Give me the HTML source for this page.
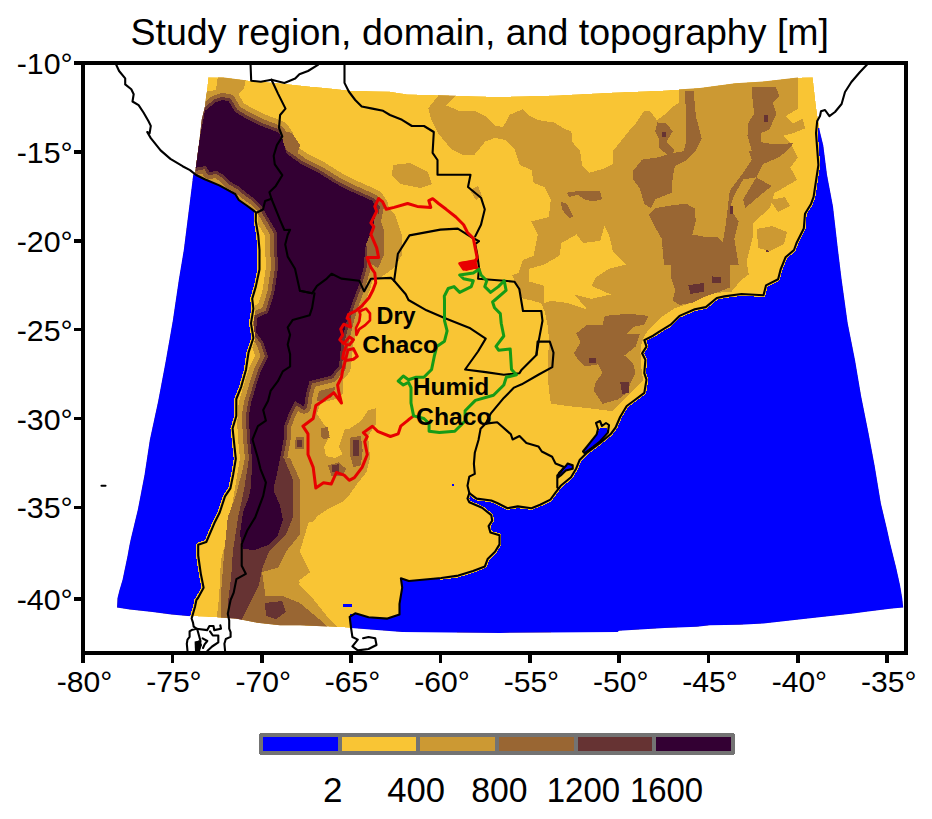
<!DOCTYPE html>
<html><head><meta charset="utf-8"><style>html,body{margin:0;padding:0;background:#fff}svg{display:block}</style></head>
<body><svg width="932" height="819" viewBox="0 0 932 819" shape-rendering="crispEdges">
<rect width="932" height="819" fill="#fff"/>
<defs><clipPath id="dom"><polygon points="208.2,77.3 224.0,77.5 241.5,79.7 250.0,80.7 280.0,83.2 305.9,86.1 329.5,88.2 353.0,90.8 390.0,91.5 407.0,94.2 468.0,96.1 500.0,96.8 553.5,95.4 612.0,92.5 663.4,90.5 692.7,88.6 700.0,88.0 735.4,83.2 763.5,81.5 797.7,77.6 812.8,77.3 816.0,105.0 819.7,130.8 823.3,145.5 827.0,174.8 833.0,206.5 838.0,250.0 841.6,279.3 847.7,323.3 855.0,360.0 861.2,396.5 868.5,433.0 874.6,465.4 880.9,503.5 887.2,530.0 889.8,542.0 893.5,557.0 896.0,567.0 898.0,576.0 900.0,585.0 902.2,598.0 903.2,607.6 892.0,608.6 868.0,611.4 853.0,613.4 835.0,615.5 807.9,618.4 785.7,620.9 763.5,623.4 739.7,624.7 710.0,625.3 696.8,626.7 664.6,628.0 619.0,630.7 617.6,632.0 500.0,632.9 402.2,632.0 351.2,628.0 333.7,626.7 300.0,625.3 280.0,625.3 257.3,622.7 235.8,618.6 214.3,617.3 187.5,616.0 171.3,614.6 152.5,612.0 129.7,609.6 117.0,607.6 117.5,598.0 119.5,590.0 122.5,580.0 125.0,568.0 127.5,556.0 129.5,545.0 131.0,538.0 137.8,509.8 144.5,474.9 149.8,440.0 158.1,401.4 165.5,362.3 172.8,320.8 178.9,279.3 183.8,250.0 193.2,175.2 195.4,170.9 197.5,155.8 199.7,138.7 201.8,119.4 205.0,106.5 206.7,91.5"/></clipPath></defs>
<g clip-path="url(#dom)">
<polygon points="208.2,77.3 224.0,77.5 241.5,79.7 250.0,80.7 280.0,83.2 305.9,86.1 329.5,88.2 353.0,90.8 390.0,91.5 407.0,94.2 468.0,96.1 500.0,96.8 553.5,95.4 612.0,92.5 663.4,90.5 692.7,88.6 700.0,88.0 735.4,83.2 763.5,81.5 797.7,77.6 812.8,77.3 816.0,105.0 819.7,130.8 823.3,145.5 827.0,174.8 833.0,206.5 838.0,250.0 841.6,279.3 847.7,323.3 855.0,360.0 861.2,396.5 868.5,433.0 874.6,465.4 880.9,503.5 887.2,530.0 889.8,542.0 893.5,557.0 896.0,567.0 898.0,576.0 900.0,585.0 902.2,598.0 903.2,607.6 892.0,608.6 868.0,611.4 853.0,613.4 835.0,615.5 807.9,618.4 785.7,620.9 763.5,623.4 739.7,624.7 710.0,625.3 696.8,626.7 664.6,628.0 619.0,630.7 617.6,632.0 500.0,632.9 402.2,632.0 351.2,628.0 333.7,626.7 300.0,625.3 280.0,625.3 257.3,622.7 235.8,618.6 214.3,617.3 187.5,616.0 171.3,614.6 152.5,612.0 129.7,609.6 117.0,607.6 117.5,598.0 119.5,590.0 122.5,580.0 125.0,568.0 127.5,556.0 129.5,545.0 131.0,538.0 137.8,509.8 144.5,474.9 149.8,440.0 158.1,401.4 165.5,362.3 172.8,320.8 178.9,279.3 183.8,250.0 193.2,175.2 195.4,170.9 197.5,155.8 199.7,138.7 201.8,119.4 205.0,106.5 206.7,91.5" fill="#F9C534" />
<polygon points="490.0,125.7 503.2,126.8 509.8,114.7 523.0,109.2 529.6,115.8 538.4,120.2 553.7,122.4 564.7,129.0 571.3,131.2 572.4,142.1 580.1,150.9 582.3,166.3 588.9,172.9 604.3,168.5 613.1,164.1 613.1,150.9 621.9,140.0 630.7,129.0 635.1,124.6 643.8,111.4 650.4,111.4 657.0,120.2 665.8,113.6 672.4,107.0 679.0,102.6 679.0,80.0 797.7,70.0 797.7,108.8 785.5,116.2 792.8,123.5 802.6,118.6 805.0,128.4 792.8,133.3 783.0,135.7 790.4,143.0 797.7,157.7 790.4,167.4 797.0,180.0 774.5,193.0 770.0,208.0 753.0,223.0 753.0,236.0 746.6,261.5 748.8,274.4 740.2,281.0 731.6,291.6 714.7,293.0 700.0,298.8 690.0,303.0 675.0,308.0 660.0,318.0 650.0,328.0 645.0,335.0 641.0,345.0 641.0,365.0 643.0,380.0 636.5,386.8 626.8,396.5 612.1,411.2 592.6,408.7 570.6,406.3 551.0,403.8 550.0,398.0 548.0,380.0 548.0,360.0 549.0,340.0 548.0,328.0 545.0,312.0 541.0,303.0 530.0,300.0 522.9,298.8 516.5,285.9 512.2,275.2 518.6,273.0 522.9,260.1 533.6,255.8 537.9,234.4 531.5,221.5 548.7,217.2 550.8,200.0 544.4,187.2 533.6,182.9 531.5,170.0 520.0,165.0 515.0,150.0 505.0,140.0 490.0,137.0" fill="#CC9933" />
<polygon points="529.4,268.7 544.4,264.4 559.4,255.8 561.5,243.0 576.6,234.4 583.0,243.0 600.2,240.8 604.5,225.8 608.8,234.4 613.0,251.5 626.0,264.4 608.8,268.7 595.9,277.3 591.6,285.9 610.9,294.5 591.6,298.8 574.4,294.5 587.3,309.5 568.0,303.0 550.8,300.9 544.4,303.0 544.4,285.9 529.4,281.6" fill="#F9C534" />
<polygon points="438.6,95.3 456.7,95.3 446.4,105.6 459.2,110.8 474.7,110.8 485.0,115.9 492.7,123.6 505.6,133.9 485.0,141.7 474.7,154.5 461.8,154.5 451.5,149.4 438.6,133.9 430.9,118.5 428.3,108.2" fill="#CC9933" />
<polygon points="684.8,90.5 693.6,90.5 695.8,115.8 701.8,138.8 695.8,150.9 685.9,160.8 683.7,150.9 685.9,142.1 685.9,111.4" fill="#996633" />
<polygon points="633.2,170.7 642.0,159.7 657.4,157.5 672.7,153.1 685.9,150.9 685.9,160.8 674.9,166.3 672.7,177.3 671.6,192.7 655.2,199.3 650.8,208.1 644.2,203.7 639.8,188.3 633.2,179.5" fill="#996633" />
<polygon points="657.4,122.4 666.2,123.5 672.7,131.2 666.2,142.1 674.9,150.9 668.4,155.3 659.6,148.7 658.5,137.7 655.2,131.2" fill="#996633" />
<polygon points="751.9,87.2 776.0,87.2 779.3,96.0 772.7,102.6 776.5,113.6 769.5,129.0 760.7,133.4 760.7,150.9 751.9,150.9 747.5,135.5 748.6,122.4 754.1,113.6 751.9,93.8" fill="#996633" />
<polygon points="760.7,142.1 773.8,144.3 793.6,143.2 787.0,150.9 778.2,157.5 762.9,164.1 760.7,157.5" fill="#996633" />
<polygon points="748.6,150.9 760.7,150.9 762.9,164.1 756.3,177.3 743.1,179.5 734.3,194.9 729.9,208.1 738.7,221.3 734.3,238.8 738.7,265.0 716.7,265.0 723.3,238.8 725.5,225.7 727.7,208.1 729.9,190.5 743.1,172.9 751.9,159.7" fill="#996633" />
<polygon points="756.3,177.3 771.6,186.1 760.7,194.9 745.3,208.1 743.1,199.3 749.7,188.3" fill="#996633" />
<polygon points="648.6,214.7 655.2,208.1 668.4,205.9 685.9,203.7 694.7,208.1 695.8,221.3 692.5,234.5 703.5,236.6 716.7,236.6 723.3,243.2 725.5,265.0 664.0,265.0 661.8,238.8 653.0,223.5" fill="#996633" />
<polygon points="661.9,247.8 730.0,247.8 730.0,287.4 719.0,291.8 705.8,296.2 692.6,302.7 679.5,304.9 672.9,300.5 675.1,289.6 670.7,276.4 670.7,263.2 666.3,256.6" fill="#996633" />
<polygon points="576.2,333.5 587.1,324.7 602.5,324.7 604.7,315.9 628.9,313.7 648.7,315.9 644.3,324.7 633.3,326.9 626.7,333.5 639.9,333.5 635.5,346.7 624.5,355.5 633.3,364.3 635.5,373.1 631.1,381.9 626.7,392.9 617.9,399.5 602.5,403.8 593.7,390.7 595.9,381.9 602.5,373.1 598.1,364.3 584.9,366.5 578.4,359.9 574.0,353.3 580.5,342.3" fill="#996633" />
<polygon points="566.9,192.7 582.3,190.5 599.9,190.5 602.1,199.3 593.3,201.5 584.5,199.3 577.9,194.9 569.1,197.1" fill="#996633" />
<polygon points="560.3,201.5 566.9,203.7 573.5,216.9 569.1,218.0 562.5,210.3" fill="#996633" />
<polygon points="661.8,132.3 666.2,132.3 666.2,136.6 661.8,136.6" fill="#663333" />
<polygon points="764.0,114.7 768.4,114.7 768.4,122.4 764.0,122.4" fill="#663333" />
<polygon points="729.9,205.9 733.2,205.9 733.2,213.6 729.9,213.6" fill="#663333" />
<polygon points="765.5,246.5 768.6,246.5 768.6,252.0 765.5,252.0" fill="#663333" />
<polygon points="712.4,276.4 721.2,277.5 721.2,283.0 712.4,283.0" fill="#663333" />
<polygon points="688.2,285.2 703.6,283.0 703.6,291.8 690.4,294.0" fill="#663333" />
<polygon points="589.3,357.7 595.9,357.7 595.9,363.2 589.3,363.2" fill="#663333" />
<polygon points="620.1,381.9 628.9,381.9 628.9,392.9 622.3,394.0" fill="#663333" />
<polygon points="662.5,132.3 665.8,132.3 665.8,136.6 662.5,136.6" fill="#663333" />
<polygon points="305.9,375.5 335.2,373.7 342.5,381.0 342.5,393.8 335.2,399.3 320.5,403.0 316.9,413.9 324.2,424.9 335.2,430.4 349.8,428.6 360.8,421.3 368.1,410.3 375.5,408.4 375.5,424.9 368.1,435.9 370.0,457.9 366.3,472.5 357.2,483.5 349.8,494.5 342.5,501.8 327.9,509.1 316.9,516.5 313.2,521.9 276.6,521.9 276.6,489.0 282.1,461.5 285.8,424.9 289.4,406.6 300.4,393.8 305.9,381.0" fill="#CC9933" />
<polygon points="320.5,404.8 338.9,401.1 342.5,410.3 346.2,424.9 342.5,435.9 338.9,446.9 342.5,454.2 335.2,457.9 326.0,456.0 324.2,446.9 329.7,435.9 326.0,426.8 318.7,415.8" fill="#F9C534" />
<polygon points="305.9,377.3 331.5,375.5 335.2,388.3 331.5,397.5 320.5,401.1 313.2,401.1 307.7,392.0" fill="#996633" />
<polygon points="320.5,428.6 327.9,426.8 329.7,437.7 324.2,439.6 320.5,435.9" fill="#996633" />
<polygon points="349.8,437.7 360.8,435.9 362.7,450.5 360.8,465.2 353.5,467.0 349.8,454.2" fill="#996633" />
<polygon points="327.9,465.2 338.9,462.4 346.2,468.9 342.5,476.2 331.5,476.2" fill="#996633" />
<polygon points="293.1,437.7 304.1,436.8 304.1,448.7 294.9,448.7" fill="#996633" />
<polygon points="309.6,393.8 316.9,392.0 316.9,406.6 311.4,406.6" fill="#996633" />
<polygon points="296.8,439.6 302.2,439.6 302.2,446.9 296.8,446.9" fill="#663333" />
<polygon points="352.6,439.6 359.0,439.6 359.0,456.0 353.5,456.0" fill="#663333" />
<polygon points="331.5,465.2 338.9,464.3 338.9,471.6 332.4,472.5" fill="#663333" />
<polygon points="757.0,229.0 772.0,226.0 787.0,232.0 784.0,244.0 770.0,251.0 758.0,248.0" fill="#CC9933" />
<polygon points="770.0,200.0 785.0,197.0 790.0,206.0 778.0,212.0" fill="#CC9933" />
<polygon points="218.0,76.0 246.0,79.0 244.0,88.0 236.0,96.0 234.0,104.0 222.0,100.0 212.0,102.0 204.0,108.0 204.0,92.0 216.0,90.0" fill="#CC9933" />
<polygon points="365.0,200.0 385.0,203.0 395.0,215.0 402.0,235.0 402.0,255.0 394.0,268.0 380.0,278.0 366.0,276.0 362.0,250.0 366.0,226.0" fill="#CC9933" />
<polygon points="393.0,165.0 410.0,163.0 428.0,172.0 432.0,184.0 420.0,188.0 400.0,184.0 392.0,175.0" fill="#CC9933" />
<polygon points="470.0,190.0 478.0,186.0 482.0,196.0 476.0,200.0" fill="#CC9933" />
<polygon points="205.0,110.8 215.8,102.2 222.2,100.0 228.6,101.1 235.0,111.8 245.8,118.3 260.8,125.8 278.0,132.2 282.3,138.7 286.6,153.7 301.6,164.4 318.8,173.0 335.9,183.7 353.1,192.3 372.4,200.9 376.7,207.3 372.4,230.0 365.8,244.4 363.4,268.8 358.5,285.9 351.2,305.5 346.3,322.6 341.4,342.1 339.0,366.5 335.2,370.0 331.5,375.5 309.6,381.0 305.9,393.8 304.1,406.6 294.9,401.1 289.4,412.1 284.5,424.9 283.5,440.0 280.0,459.0 276.0,478.0 273.0,490.0 271.0,500.0 250.0,500.0 251.0,480.0 252.5,463.7 249.8,436.8 249.0,415.0 251.0,403.1 256.0,386.0 260.8,371.4 268.1,356.8 263.3,342.1 256.0,332.3 257.2,317.7 268.1,312.8 274.2,293.3 277.9,268.8 276.7,232.2 266.0,214.0 262.0,206.0 254.7,198.8 246.2,192.7 238.8,186.6 230.3,181.7 224.2,175.6 216.9,170.8 209.5,172.0 205.9,165.9 194.9,168.0 199.7,138.7" fill="#CC9933" stroke="#CC9933" stroke-width="24" stroke-linejoin="round"/>
<polygon points="205.0,110.8 215.8,102.2 222.2,100.0 228.6,101.1 235.0,111.8 245.8,118.3 260.8,125.8 278.0,132.2 282.3,138.7 286.6,153.7 301.6,164.4 318.8,173.0 335.9,183.7 353.1,192.3 372.4,200.9 376.7,207.3 372.4,230.0 365.8,244.4 363.4,268.8 358.5,285.9 351.2,305.5 346.3,322.6 341.4,342.1 339.0,366.5 335.2,370.0 331.5,375.5 309.6,381.0 305.9,393.8 304.1,406.6 294.9,401.1 289.4,412.1 284.5,424.9 283.5,440.0 280.0,459.0 276.0,478.0 273.0,490.0 271.0,500.0 250.0,500.0 251.0,480.0 252.5,463.7 249.8,436.8 249.0,415.0 251.0,403.1 256.0,386.0 260.8,371.4 268.1,356.8 263.3,342.1 256.0,332.3 257.2,317.7 268.1,312.8 274.2,293.3 277.9,268.8 276.7,232.2 266.0,214.0 262.0,206.0 254.7,198.8 246.2,192.7 238.8,186.6 230.3,181.7 224.2,175.6 216.9,170.8 209.5,172.0 205.9,165.9 194.9,168.0 199.7,138.7" fill="#996633" stroke="#996633" stroke-width="14" stroke-linejoin="round"/>
<polygon points="205.0,110.8 215.8,102.2 222.2,100.0 228.6,101.1 235.0,111.8 245.8,118.3 260.8,125.8 278.0,132.2 282.3,138.7 286.6,153.7 301.6,164.4 318.8,173.0 335.9,183.7 353.1,192.3 372.4,200.9 376.7,207.3 372.4,230.0 365.8,244.4 363.4,268.8 358.5,285.9 351.2,305.5 346.3,322.6 341.4,342.1 339.0,366.5 335.2,370.0 331.5,375.5 309.6,381.0 305.9,393.8 304.1,406.6 294.9,401.1 289.4,412.1 284.5,424.9 283.5,440.0 280.0,459.0 276.0,478.0 273.0,490.0 271.0,500.0 250.0,500.0 251.0,480.0 252.5,463.7 249.8,436.8 249.0,415.0 251.0,403.1 256.0,386.0 260.8,371.4 268.1,356.8 263.3,342.1 256.0,332.3 257.2,317.7 268.1,312.8 274.2,293.3 277.9,268.8 276.7,232.2 266.0,214.0 262.0,206.0 254.7,198.8 246.2,192.7 238.8,186.6 230.3,181.7 224.2,175.6 216.9,170.8 209.5,172.0 205.9,165.9 194.9,168.0 199.7,138.7" fill="#663333" stroke="#663333" stroke-width="6" stroke-linejoin="round"/>
<polygon points="280.0,130.0 292.0,133.0 300.0,145.0 297.0,155.0 288.0,152.0 282.0,142.0" fill="#996633" />
<polygon points="368.0,210.0 378.0,212.0 384.0,230.0 384.0,255.0 378.0,268.0 368.0,262.0 366.0,240.0" fill="#996633" />
<polygon points="240.0,458.0 300.0,458.0 318.0,480.0 313.6,500.0 310.2,517.2 299.9,551.5 310.2,572.1 296.4,582.4 313.6,599.6 327.3,616.7 337.6,627.0 337.6,640.0 215.8,640.0 215.8,627.0 219.2,596.1 220.9,560.1 227.8,534.3 233.0,500.0 238.0,470.0" fill="#CC9933" />
<polygon points="245.0,458.0 290.0,458.0 299.9,480.0 299.9,534.3 286.1,551.5 275.8,572.1 282.7,596.1 299.9,603.0 320.5,620.2 327.3,627.0 327.3,640.0 220.9,640.0 220.9,594.4 224.3,551.5 227.8,517.2 236.0,495.0 243.0,468.0" fill="#996633" />
<polygon points="262.1,572.1 286.1,565.2 299.9,582.4 286.1,596.1 265.5,596.1" fill="#CC9933" />
<polygon points="249.0,458.0 284.0,458.0 293.0,480.0 293.0,517.2 286.1,534.3 269.0,551.5 262.1,568.7 258.7,585.8 248.4,606.4 241.5,620.2 229.5,620.2 227.8,603.0 231.2,577.3 232.9,551.5 238.1,517.2 244.0,490.0 247.5,468.0" fill="#663333" />
<polygon points="265.0,603.0 282.0,601.0 286.0,612.0 276.0,619.0 266.0,616.0" fill="#663333" />
<polygon points="205.0,110.8 215.8,102.2 222.2,100.0 228.6,101.1 235.0,111.8 245.8,118.3 260.8,125.8 278.0,132.2 282.3,138.7 286.6,153.7 301.6,164.4 318.8,173.0 335.9,183.7 353.1,192.3 372.4,200.9 376.7,207.3 372.4,230.0 365.8,244.4 363.4,268.8 358.5,285.9 351.2,305.5 346.3,322.6 341.4,342.1 339.0,366.5 335.2,370.0 331.5,375.5 309.6,381.0 305.9,393.8 304.1,406.6 294.9,401.1 289.4,412.1 284.5,424.9 283.5,440.0 280.0,459.0 276.0,478.0 273.0,490.0 271.0,500.0 250.0,500.0 251.0,480.0 252.5,463.7 249.8,436.8 249.0,415.0 251.0,403.1 256.0,386.0 260.8,371.4 268.1,356.8 263.3,342.1 256.0,332.3 257.2,317.7 268.1,312.8 274.2,293.3 277.9,268.8 276.7,232.2 266.0,214.0 262.0,206.0 254.7,198.8 246.2,192.7 238.8,186.6 230.3,181.7 224.2,175.6 216.9,170.8 209.5,172.0 205.9,165.9 194.9,168.0 199.7,138.7" fill="#330033" />
<polygon points="253.0,476.0 273.0,476.0 274.0,492.0 280.0,505.0 283.0,520.0 278.0,535.0 268.0,545.0 255.0,550.0 243.0,549.0 240.0,534.0 243.0,512.0 249.0,497.0" fill="#330033" />
<polygon points="190.0,170.1 196.1,175.0 204.7,179.3 219.3,185.4 235.2,194.0 238.8,200.0 246.0,205.0 255.9,212.3 257.2,231.0 259.5,250.0 259.5,269.5 255.8,286.6 252.2,298.8 253.4,308.6 251.0,323.3 253.4,338.0 248.5,352.6 246.0,369.7 241.2,386.8 236.3,399.0 236.3,416.0 232.6,428.3 233.8,440.0 235.8,458.8 233.1,475.0 230.4,488.4 225.0,496.4 219.7,512.5 214.3,523.3 206.3,542.0 198.2,544.8 198.2,555.5 200.9,574.3 203.6,587.7 198.2,601.2 192.8,614.6 192.0,620.0 150.0,620.0 110.0,610.0 110.0,590.0 140.0,440.0 170.0,300.0 185.0,200.0" fill="#0000FF" />
<polygon points="818.0,128.0 816.5,133.0 818.4,165.0 813.6,196.8 811.0,204.0 805.0,213.8 803.8,228.5 796.5,243.0 794.0,250.0 785.5,257.3 780.6,269.5 778.1,279.3 766.0,285.4 763.5,295.2 741.5,294.0 724.4,296.4 716.8,298.0 705.8,307.1 694.8,309.3 679.5,315.9 670.7,324.7 659.7,331.3 653.1,335.7 644.3,340.1 646.5,346.7 642.1,353.3 645.4,359.9 644.3,373.1 646.5,379.7 644.3,392.9 635.5,399.5 626.7,406.0 620.1,417.0 615.6,427.5 610.5,434.3 600.2,442.9 586.4,453.2 579.6,460.1 576.1,468.7 571.0,477.3 560.7,485.8 555.5,492.7 550.4,499.6 540.1,504.7 531.5,508.2 517.8,506.4 507.5,508.2 497.2,503.0 491.3,500.5 476.6,498.6 469.3,493.1 467.5,498.6 469.3,502.3 482.1,507.8 491.3,515.1 492.2,520.6 488.6,526.1 490.4,532.5 499.5,535.3 499.5,544.4 495.0,551.8 487.6,559.1 484.9,566.4 473.0,571.0 458.3,575.6 441.2,578.0 408.9,581.0 400.9,578.3 402.2,587.7 399.5,603.9 399.5,614.6 387.4,618.6 368.6,617.3 355.2,613.3 349.8,614.6 351.2,640.0 920.0,640.0 920.0,128.0 819.0,128.0" fill="#0000FF" />
<polygon points="583.0,451.5 589.9,442.9 596.7,434.3 600.2,427.5 607.0,427.5 607.9,432.6 600.2,441.2 591.6,448.1 584.7,453.2" fill="#0000FF" />
<polygon points="567.6,463.5 572.7,465.2 572.7,468.7 565.8,470.4 560.7,475.5 558.1,477.3 559.0,473.0 565.8,466.1" fill="#0000FF" />
<polygon points="452.0,483.5 453.5,483.5 453.5,485.5 452.0,485.5" fill="#0000FF" />
<polygon points="343.0,604.0 352.4,604.0 352.4,607.4 343.0,607.4" fill="#0000FF" />
<polyline points="255.9,212.3 255.8,221.2 258.3,235.8 259.5,250.0 259.5,269.5 255.8,286.6 252.2,298.8 253.4,308.6 251.0,323.3 253.4,338.0 248.5,352.6 246.0,369.7 241.2,386.8 236.3,399.0 236.3,416.0 232.6,428.3 233.8,440.0 235.8,458.8 233.1,475.0 230.4,488.4 225.0,496.4 219.7,512.5 214.3,523.3 206.3,542.0 198.2,544.8 198.2,555.5 200.9,574.3 203.6,587.7 198.0,598.0 196.4,600.0 195.0,606.8 193.0,613.7 191.6,618.5 193.0,622.6" fill="none" stroke="#F9C534" stroke-width="4.2" stroke-linejoin="round" stroke-linecap="round"/>
<polyline points="817.2,121.0 816.0,133.0 818.4,165.0 813.6,196.8 811.0,204.0 805.0,213.8 803.8,228.5 796.5,243.0 794.0,250.0 785.5,257.3 780.6,269.5 778.1,279.3 766.0,285.4 763.5,295.2 741.5,294.0 724.4,296.4 716.8,298.0 705.8,307.1 694.8,309.3 679.5,315.9 670.7,324.7 659.7,331.3 653.1,335.7 644.3,340.1 646.5,346.7 642.1,353.3 645.4,359.9 644.3,373.1 646.5,379.7 644.3,392.9 635.5,399.5 626.7,406.0 620.1,417.0 615.6,427.5 610.5,434.3 600.2,442.9 586.4,453.2 579.6,460.1 576.1,468.7 571.0,477.3 560.7,485.8 555.5,492.7 550.4,499.6 540.1,504.7 531.5,508.2 517.8,506.4 507.5,508.2 497.2,503.0 491.3,500.5 476.6,498.6 469.3,493.1 467.5,485.8 469.3,476.6 474.8,473.9 473.9,463.8 474.8,452.8 478.5,440.0 480.6,428.8 485.7,423.6" fill="none" stroke="#F9C534" stroke-width="3.6" stroke-linejoin="round" stroke-linecap="round"/>
<polyline points="469.3,493.1 467.5,498.6 469.3,502.3 482.1,507.8 491.3,515.1 492.2,520.6 488.6,526.1 490.4,532.5 499.5,535.3 499.5,544.4 495.0,551.8 487.6,559.1 484.9,566.4 473.0,571.0 458.3,575.6 441.2,578.0" fill="none" stroke="#F9C534" stroke-width="3.6" stroke-linejoin="round" stroke-linecap="round"/>
</g>
<g shape-rendering="auto">
<polyline points="250.5,63.0 251.2,80.7 260.8,81.8 271.5,79.7 284.4,82.9 295.2,78.6 299.4,74.3 308.0,71.0 317.9,64.9 319.0,63.0" fill="none" stroke="#000" stroke-width="2.1" stroke-linejoin="round" stroke-linecap="round"/>
<polyline points="271.5,79.7 278.0,93.6 285.5,108.6 280.1,115.0 279.0,127.9 282.3,136.5 276.9,145.1 273.7,155.8 274.8,164.4 282.3,175.2 275.8,185.9 269.4,192.3 271.5,198.8 265.1,200.9 263.0,209.5 256.5,212.7" fill="none" stroke="#000" stroke-width="2.1" stroke-linejoin="round" stroke-linecap="round"/>
<polyline points="271.5,198.8 275.8,209.5 280.1,220.2 284.4,230.0 290.1,229.8 287.7,234.7 285.2,244.4 287.7,256.6 295.0,268.8 299.9,290.8 312.1,293.3" fill="none" stroke="#000" stroke-width="2.1" stroke-linejoin="round" stroke-linecap="round"/>
<polyline points="299.9,290.8 312.1,293.3 317.0,285.9 326.8,278.6 331.6,273.7 341.4,278.6 359.3,280.8 364.1,291.4 370.9,278.8 391.2,277.9 394.1,280.8" fill="none" stroke="#000" stroke-width="2.1" stroke-linejoin="round" stroke-linecap="round"/>
<polyline points="394.1,280.8 397.9,253.7 409.5,235.4 440.4,229.6 457.8,228.6 473.3,238.3 479.0,241.2 475.2,244.1 477.1,253.7 479.0,267.3 478.1,278.8 504.2,280.8 514.4,281.7 519.3,289.0 523.0,311.0 541.3,311.0 542.5,320.8 538.8,340.4 536.4,355.0 521.7,369.7 519.3,373.3 503.8,374.7 485.7,372.1 465.1,369.5 478.0,351.5 485.7,338.6 470.3,328.3 444.5,318.0 426.5,310.3 408.5,300.0 405.7,294.3 394.1,280.8" fill="none" stroke="#000" stroke-width="2.1" stroke-linejoin="round" stroke-linecap="round"/>
<polyline points="344.5,63.0 344.5,82.9 348.8,91.5 355.2,100.0 361.7,106.5 372.4,108.6 383.1,110.8 390.0,115.0 402.0,119.8 411.9,126.0 424.0,126.0 433.8,132.0 432.6,152.8 437.5,160.0 437.5,174.8 470.5,174.8 468.0,187.0 481.0,197.7 484.8,209.3 481.0,224.8 475.2,236.4" fill="none" stroke="#000" stroke-width="2.1" stroke-linejoin="round" stroke-linecap="round"/>
<polyline points="314.5,293.3 312.1,307.9 309.7,315.2 292.6,320.1 287.7,327.4 290.1,334.8 287.7,344.5 290.1,354.3 290.1,366.5 282.8,371.4 277.9,381.2 270.6,390.9 268.1,400.7 263.2,410.0 265.9,420.7 257.9,426.1 252.5,439.5 257.9,458.3 260.5,469.1 265.9,482.5 263.2,495.9 255.2,517.4 247.1,530.8 241.7,544.2 241.7,565.7 245.8,573.8 236.4,579.1 233.7,592.6 230.6,600.0 229.2,606.8 227.8,613.7 229.2,620.5 229.2,628.7 230.6,632.1 230.6,636.9 225.8,639.0 224.4,643.7 225.1,651.0" fill="none" stroke="#000" stroke-width="2.1" stroke-linejoin="round" stroke-linecap="round"/>
<polyline points="536.4,355.0 537.6,341.6 549.8,341.6 553.5,352.6 552.3,367.2 538.8,374.5 521.7,384.3 514.0,387.6 503.8,397.9 490.9,413.3 485.7,423.6" fill="none" stroke="#000" stroke-width="2.1" stroke-linejoin="round" stroke-linecap="round"/>
<polyline points="485.7,423.6 497.2,422.3 510.9,434.3 512.6,439.5 519.5,436.0 526.4,442.9 538.4,446.4 541.8,451.5 552.1,456.7 555.5,463.5 564.1,467.0 560.7,472.1 557.3,475.5 557.3,487.6 559.0,488.4" fill="none" stroke="#000" stroke-width="2.1" stroke-linejoin="round" stroke-linecap="round"/>
<polyline points="583.0,451.5 589.9,442.9 596.7,434.3 598.0,429.0 596.0,423.0 600.0,421.0 602.0,426.0 606.0,423.0 609.0,425.0 607.9,432.6 600.2,441.2 591.6,448.1 584.7,453.2 583.0,451.5" fill="none" stroke="#000" stroke-width="2.1" stroke-linejoin="round" stroke-linecap="round"/>
<polyline points="567.6,463.5 572.7,465.2 572.7,468.7 565.8,470.4 560.7,475.5 558.1,477.3 559.0,473.0 565.8,466.1 567.6,463.5" fill="none" stroke="#000" stroke-width="2.1" stroke-linejoin="round" stroke-linecap="round"/>
<polyline points="196.4,628.7 207.3,630.1 209.4,626.0 213.5,626.0 214.2,630.1 221.0,628.7 220.3,625.3" fill="none" stroke="#000" stroke-width="2.1" stroke-linejoin="round" stroke-linecap="round"/>
<polyline points="197.1,628.7 200.5,641.0 199.1,651.0" fill="none" stroke="#000" stroke-width="2.1" stroke-linejoin="round" stroke-linecap="round"/>
<polyline points="210.0,631.4 212.8,635.5 218.3,635.5 218.3,642.4 212.1,646.5 207.3,651.0" fill="none" stroke="#000" stroke-width="2.1" stroke-linejoin="round" stroke-linecap="round"/>
<polyline points="202.6,638.3 207.3,641.0 204.6,644.4 203.0,648.0" fill="none" stroke="#000" stroke-width="2.1" stroke-linejoin="round" stroke-linecap="round"/>
<polyline points="196.0,643.0 199.0,641.5 201.0,645.0 199.0,649.0 196.0,648.0 196.0,643.0" fill="none" stroke="#000" stroke-width="2.1" stroke-linejoin="round" stroke-linecap="round"/>
<polyline points="101.5,485.7 105.5,485.7" fill="none" stroke="#000" stroke-width="2.1" stroke-linejoin="round" stroke-linecap="round"/>
<polyline points="115.4,63.0 119.1,71.0 125.2,78.3 125.2,84.4 131.3,89.3 133.7,94.2 132.5,101.5 138.6,105.2 143.5,112.5 148.4,121.0 150.8,125.9 149.6,133.3 147.2,132.0 150.8,138.1 160.6,150.4 170.4,158.9 182.6,166.2 190.0,170.1 196.1,175.0 204.7,179.3 219.3,185.4 235.2,194.0 238.8,200.0 246.0,205.0 255.9,212.3 255.8,221.2 258.3,235.8 259.5,250.0 259.5,269.5 255.8,286.6 252.2,298.8 253.4,308.6 251.0,323.3 253.4,338.0 248.5,352.6 246.0,369.7 241.2,386.8 236.3,399.0 236.3,416.0 232.6,428.3 233.8,440.0 235.8,458.8 233.1,475.0 230.4,488.4 225.0,496.4 219.7,512.5 214.3,523.3 206.3,542.0 198.2,544.8 198.2,555.5 200.9,574.3 203.6,587.7 198.0,598.0 196.4,600.0 195.0,606.8 193.0,613.7 191.6,618.5 193.0,622.6 193.7,626.7 196.4,628.7 191.6,630.1 189.6,631.4 189.6,636.9 187.5,639.6 186.8,643.7 187.5,651.0" fill="none" stroke="#000" stroke-width="2.1" stroke-linejoin="round" stroke-linecap="round"/>
<polyline points="868.5,63.0 860.0,72.0 851.4,82.0 845.0,92.0 841.6,104.0 835.0,112.0 829.4,116.2 825.0,110.0 821.0,111.3 820.0,116.0 817.2,121.0 816.0,133.0 818.4,165.0 813.6,196.8 811.0,204.0 805.0,213.8 803.8,228.5 796.5,243.0 794.0,250.0 785.5,257.3 780.6,269.5 778.1,279.3 766.0,285.4 763.5,295.2 741.5,294.0 724.4,296.4 716.8,298.0 705.8,307.1 694.8,309.3 679.5,315.9 670.7,324.7 659.7,331.3 653.1,335.7 644.3,340.1 646.5,346.7 642.1,353.3 645.4,359.9 644.3,373.1 646.5,379.7 644.3,392.9 635.5,399.5 626.7,406.0 620.1,417.0 615.6,427.5 610.5,434.3 600.2,442.9 586.4,453.2 579.6,460.1 576.1,468.7 571.0,477.3 560.7,485.8 555.5,492.7 550.4,499.6 540.1,504.7 531.5,508.2 517.8,506.4 507.5,508.2 497.2,503.0 491.3,500.5 476.6,498.6 469.3,493.1 467.5,485.8 469.3,476.6 474.8,473.9 473.9,463.8 474.8,452.8 478.5,440.0 480.6,428.8 485.7,423.6" fill="none" stroke="#000" stroke-width="2.1" stroke-linejoin="round" stroke-linecap="round"/>
<polyline points="469.3,493.1 467.5,498.6 469.3,502.3 482.1,507.8 491.3,515.1 492.2,520.6 488.6,526.1 490.4,532.5 499.5,535.3 499.5,544.4 495.0,551.8 487.6,559.1 484.9,566.4 473.0,571.0 458.3,575.6 441.2,578.0 408.9,581.0 400.9,578.3 402.2,587.7 399.5,603.9 399.5,614.6 387.4,618.6 368.6,617.3 355.2,613.3 349.7,616.8 351.0,627.6 352.4,637.0 357.8,639.6 352.4,646.3 357.8,650.4 368.5,649.0 376.5,645.0 375.2,638.3 368.5,637.0 363.1,638.3" fill="none" stroke="#000" stroke-width="2.1" stroke-linejoin="round" stroke-linecap="round"/>
<polygon points="194.6,641.5 200,640.5 201,646 199.5,651 195,651" fill="#000"/>
<polyline points="378.6,198.7 382.5,201.6 386.3,209.3 394.1,207.4 407.6,203.5 417.2,206.4 430.8,207.4 428.8,200.6 432.7,198.7 438.5,203.5 446.2,209.3 455.9,217.0 463.6,224.8 467.5,232.5 473.3,238.3 475.2,247.9 477.1,257.6 475.2,261.5 459.7,263.4 463.6,269.2 475.2,267.3 479.0,269.2" fill="none" stroke="#E80000" stroke-width="3" stroke-linejoin="round" stroke-linecap="round"/>
<polyline points="378.6,198.7 374.8,206.4 376.7,211.2 370.9,222.8 373.8,226.7 370.9,234.4 376.7,247.9 378.6,257.6 367.0,257.6 370.9,267.3 374.8,273.0 375.7,282.7 373.0,290.0 369.0,297.8 362.2,305.6 356.4,310.5 348.6,314.4 347.1,318.3 349.5,319.3 350.5,327.1 343.7,324.2 340.7,329.1 342.7,334.9 339.8,339.8 343.7,343.7 349.5,336.9 353.4,339.8 349.5,344.7 346.6,344.7 343.7,352.5 342.7,358.4 347.6,360.3 353.4,359.3 357.3,356.4 353.4,348.6 348.0,350.0 345.0,362.0 342.7,370.0 341.5,377.3 337.6,385.0 338.9,392.7 341.5,403.0 333.8,392.7 323.5,400.4 315.8,405.6 313.2,418.5 302.9,426.2 308.0,433.9 308.0,454.5 313.2,467.4 315.8,488.0 323.5,482.8 331.2,484.1 336.4,472.5 344.1,475.1 349.2,480.3 354.4,477.7 362.1,467.4 367.3,454.5 364.7,441.6 367.3,436.5 363.4,432.6 372.4,426.2 377.6,431.3 390.4,436.5 398.2,433.9 400.7,426.2 408.5,419.8 413.6,415.9" fill="none" stroke="#E80000" stroke-width="3" stroke-linejoin="round" stroke-linecap="round"/>
<polyline points="359.3,311.5 366.1,308.6 370.0,313.4 370.0,320.3 365.2,325.2 359.3,329.1 356.4,334.9 356.0,328.0 359.3,321.3 360.3,314.4 359.3,311.5" fill="none" stroke="#E80000" stroke-width="2.6" stroke-linejoin="round" stroke-linecap="round"/>
<polygon points="460,262 476,259 478,268 466,271 462,268" fill="#E80000"/>
<polyline points="479.0,269.2 473.3,273.0 459.7,275.0 463.6,278.8 473.3,280.8 471.3,286.6 459.7,292.4 454.0,286.6 448.2,288.5 444.3,296.2 444.5,300.0 444.5,320.6 447.1,330.9 444.5,341.2 436.8,346.4 434.2,356.7 431.6,369.5 423.9,377.3 416.2,377.3 408.5,379.8 403.3,376.0 398.2,381.1 403.3,385.0 408.5,382.4 411.0,387.6 411.0,403.0 413.6,415.9 423.9,418.5 429.1,423.6 429.1,431.3 439.4,432.6 454.8,431.3 465.1,421.0 465.1,410.7 475.4,400.4 493.5,395.3 503.8,385.0 506.3,377.3 516.6,374.7 511.5,369.5 510.2,348.9 498.6,350.2 496.0,346.4 503.8,336.0 501.2,323.2 500.3,313.6 494.5,307.8 492.6,302.0 506.1,290.4 504.2,280.8 498.4,286.6 490.6,292.4 484.8,286.6 486.8,280.8 481.0,275.0 479.0,269.2" fill="none" stroke="#169B16" stroke-width="3" stroke-linejoin="round" stroke-linecap="round"/>
<text x="376.6" y="324" textLength="39" lengthAdjust="spacingAndGlyphs" style="font-family:'Liberation Sans',Arial,sans-serif;font-weight:bold;font-size:23px">Dry</text>
<text x="362.3" y="352.6" textLength="76" lengthAdjust="spacingAndGlyphs" style="font-family:'Liberation Sans',Arial,sans-serif;font-weight:bold;font-size:23px">Chaco</text>
<text x="412.8" y="395.4" textLength="76.5" lengthAdjust="spacingAndGlyphs" style="font-family:'Liberation Sans',Arial,sans-serif;font-weight:bold;font-size:23px">Humid</text>
<text x="416.1" y="424.8" textLength="75.5" lengthAdjust="spacingAndGlyphs" style="font-family:'Liberation Sans',Arial,sans-serif;font-weight:bold;font-size:23px">Chaco</text>
</g>
<rect x="83.3" y="62.9" width="823" height="590" fill="none" stroke="#000" stroke-width="3.8"/>
<line x1="73.5" y1="62.9" x2="83" y2="62.9" stroke="#000" stroke-width="3.6"/>
<text x="44.7" y="73.9" text-anchor="middle" textLength="56" lengthAdjust="spacingAndGlyphs" style="font-family:'Liberation Sans',Arial,sans-serif;font-size:30px">-10°</text>
<line x1="73.5" y1="151.8" x2="83" y2="151.8" stroke="#000" stroke-width="3.6"/>
<text x="44.7" y="162.8" text-anchor="middle" textLength="56" lengthAdjust="spacingAndGlyphs" style="font-family:'Liberation Sans',Arial,sans-serif;font-size:30px">-15°</text>
<line x1="73.5" y1="240.7" x2="83" y2="240.7" stroke="#000" stroke-width="3.6"/>
<text x="44.7" y="251.7" text-anchor="middle" textLength="56" lengthAdjust="spacingAndGlyphs" style="font-family:'Liberation Sans',Arial,sans-serif;font-size:30px">-20°</text>
<line x1="73.5" y1="329.6" x2="83" y2="329.6" stroke="#000" stroke-width="3.6"/>
<text x="44.7" y="340.6" text-anchor="middle" textLength="56" lengthAdjust="spacingAndGlyphs" style="font-family:'Liberation Sans',Arial,sans-serif;font-size:30px">-25°</text>
<line x1="73.5" y1="418.5" x2="83" y2="418.5" stroke="#000" stroke-width="3.6"/>
<text x="44.7" y="429.5" text-anchor="middle" textLength="56" lengthAdjust="spacingAndGlyphs" style="font-family:'Liberation Sans',Arial,sans-serif;font-size:30px">-30°</text>
<line x1="73.5" y1="507.4" x2="83" y2="507.4" stroke="#000" stroke-width="3.6"/>
<text x="44.7" y="518.4" text-anchor="middle" textLength="56" lengthAdjust="spacingAndGlyphs" style="font-family:'Liberation Sans',Arial,sans-serif;font-size:30px">-35°</text>
<line x1="73.5" y1="598.8" x2="83" y2="598.8" stroke="#000" stroke-width="3.6"/>
<text x="44.7" y="609.8" text-anchor="middle" textLength="56" lengthAdjust="spacingAndGlyphs" style="font-family:'Liberation Sans',Arial,sans-serif;font-size:30px">-40°</text>
<line x1="83.0" y1="652" x2="83.0" y2="662.6" stroke="#000" stroke-width="3.6"/>
<text x="84.6" y="691.5" text-anchor="middle" textLength="55.5" lengthAdjust="spacingAndGlyphs" style="font-family:'Liberation Sans',Arial,sans-serif;font-size:30px">-80°</text>
<line x1="172.3" y1="652" x2="172.3" y2="662.6" stroke="#000" stroke-width="3.6"/>
<text x="173.9" y="691.5" text-anchor="middle" textLength="55.5" lengthAdjust="spacingAndGlyphs" style="font-family:'Liberation Sans',Arial,sans-serif;font-size:30px">-75°</text>
<line x1="261.7" y1="652" x2="261.7" y2="662.6" stroke="#000" stroke-width="3.6"/>
<text x="263.3" y="691.5" text-anchor="middle" textLength="55.5" lengthAdjust="spacingAndGlyphs" style="font-family:'Liberation Sans',Arial,sans-serif;font-size:30px">-70°</text>
<line x1="351.0" y1="652" x2="351.0" y2="662.6" stroke="#000" stroke-width="3.6"/>
<text x="352.6" y="691.5" text-anchor="middle" textLength="55.5" lengthAdjust="spacingAndGlyphs" style="font-family:'Liberation Sans',Arial,sans-serif;font-size:30px">-65°</text>
<line x1="440.4" y1="652" x2="440.4" y2="662.6" stroke="#000" stroke-width="3.6"/>
<text x="442.0" y="691.5" text-anchor="middle" textLength="55.5" lengthAdjust="spacingAndGlyphs" style="font-family:'Liberation Sans',Arial,sans-serif;font-size:30px">-60°</text>
<line x1="529.8" y1="652" x2="529.8" y2="662.6" stroke="#000" stroke-width="3.6"/>
<text x="531.4" y="691.5" text-anchor="middle" textLength="55.5" lengthAdjust="spacingAndGlyphs" style="font-family:'Liberation Sans',Arial,sans-serif;font-size:30px">-55°</text>
<line x1="619.1" y1="652" x2="619.1" y2="662.6" stroke="#000" stroke-width="3.6"/>
<text x="620.7" y="691.5" text-anchor="middle" textLength="55.5" lengthAdjust="spacingAndGlyphs" style="font-family:'Liberation Sans',Arial,sans-serif;font-size:30px">-50°</text>
<line x1="708.4" y1="652" x2="708.4" y2="662.6" stroke="#000" stroke-width="3.6"/>
<text x="710.0" y="691.5" text-anchor="middle" textLength="55.5" lengthAdjust="spacingAndGlyphs" style="font-family:'Liberation Sans',Arial,sans-serif;font-size:30px">-45°</text>
<line x1="797.8" y1="652" x2="797.8" y2="662.6" stroke="#000" stroke-width="3.6"/>
<text x="799.4" y="691.5" text-anchor="middle" textLength="55.5" lengthAdjust="spacingAndGlyphs" style="font-family:'Liberation Sans',Arial,sans-serif;font-size:30px">-40°</text>
<line x1="887.1" y1="652" x2="887.1" y2="662.6" stroke="#000" stroke-width="3.6"/>
<text x="888.8" y="691.5" text-anchor="middle" textLength="55.5" lengthAdjust="spacingAndGlyphs" style="font-family:'Liberation Sans',Arial,sans-serif;font-size:30px">-35°</text>
<text x="130.5" y="45" textLength="698.5" lengthAdjust="spacingAndGlyphs" style="font-family:'Liberation Sans',Arial,sans-serif;font-size:37px">Study region, domain, and topography [m]</text>
<rect x="259" y="733.3" width="475.8" height="21.4" fill="#737373" rx="1.5"/>
<rect x="263" y="737" width="75.1" height="13.8" fill="#0000FF"/>
<rect x="341.7" y="737" width="74.3" height="13.8" fill="#F9C534"/>
<rect x="419.7" y="737" width="75.3" height="13.8" fill="#CC9933"/>
<rect x="499" y="737" width="75.0" height="13.8" fill="#996633"/>
<rect x="578" y="737" width="73.7" height="13.8" fill="#663333"/>
<rect x="655.8" y="737" width="75.1" height="13.8" fill="#330033"/>
<text x="332.8" y="801.5" text-anchor="middle" textLength="19.5" lengthAdjust="spacingAndGlyphs" style="font-family:'Liberation Sans',Arial,sans-serif;font-size:34.5px">2</text>
<text x="416.2" y="801.5" text-anchor="middle" textLength="57.8" lengthAdjust="spacingAndGlyphs" style="font-family:'Liberation Sans',Arial,sans-serif;font-size:34.5px">400</text>
<text x="499.3" y="801.5" text-anchor="middle" textLength="56.3" lengthAdjust="spacingAndGlyphs" style="font-family:'Liberation Sans',Arial,sans-serif;font-size:34.5px">800</text>
<text x="583.4" y="801.5" text-anchor="middle" textLength="73.3" lengthAdjust="spacingAndGlyphs" style="font-family:'Liberation Sans',Arial,sans-serif;font-size:34.5px">1200</text>
<text x="666.5" y="801.5" text-anchor="middle" textLength="73.2" lengthAdjust="spacingAndGlyphs" style="font-family:'Liberation Sans',Arial,sans-serif;font-size:34.5px">1600</text>
</svg></body></html>
